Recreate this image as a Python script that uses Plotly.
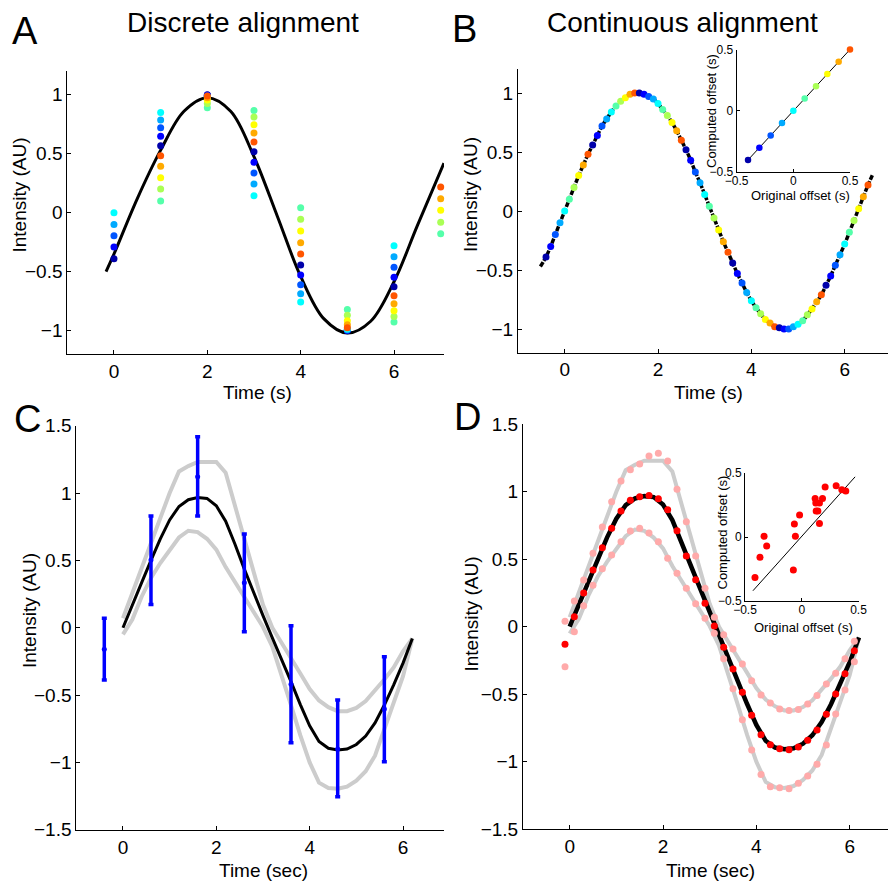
import plotly.graph_objects as go

W, H = 888, 882
FONT = "Liberation Sans, Arial, Helvetica, sans-serif"
# MATLAB jet(10)
JET10 = ['#0000AA', '#0000FF', '#0055FF', '#00AAFF', '#00FFFF',
         '#55FFAA', '#AAFF55', '#FFFF00', '#FFAA00', '#FF5500']

# ---------------- Panel A : discrete alignment ----------------
A_TIMES = [0, 1, 2, 3, 4, 5, 6, 7]
A_VALUES = [
    [0.00, -0.10, -0.195, -0.29, -0.39],
    [0.85, 0.785, 0.72, 0.647, 0.568, 0.483, 0.393, 0.297, 0.20, 0.10],
    [1.00, 0.995, 0.99, 0.985, 0.98, 0.89, 0.925, 0.955, 0.975, 0.99],
    [0.867, 0.81, 0.746, 0.675, 0.60, 0.517, 0.427, 0.336, 0.243, 0.144],
    [0.042, -0.056, -0.155, -0.254, -0.35, -0.443, -0.528, -0.61, -0.686, -0.757],
    [-1.00, -0.997, -0.994, -0.99, -0.985, -0.82, -0.87, -0.915, -0.95, -0.975],
    [-0.28, -0.373, -0.463, -0.548, -0.627, -0.703, -0.771, -0.83, -0.88, -0.927],
    [0.218, 0.119, 0.02, -0.08, -0.178],
]
A_COLOR_IDX = [
    [4, 3, 2, 1, 0],
    [4, 3, 2, 1, 0, 9, 8, 7, 6, 5],
    [0, 1, 2, 3, 4, 5, 6, 7, 8, 9],
    [5, 6, 7, 8, 9, 0, 1, 2, 3, 4],
    [5, 6, 7, 8, 9, 0, 1, 2, 3, 4],
    [0, 1, 2, 3, 4, 5, 6, 7, 8, 9],
    [4, 3, 2, 1, 0, 9, 8, 7, 6, 5],
    [9, 8, 7, 6, 5],
]
A_CURVE_X = [-0.17, 0.0, 0.5, 1.0, 1.5, 2.0, 2.5, 3.0, 3.5, 4.0, 4.5, 5.0, 5.5, 6.0, 6.5, 7.07]
A_CURVE_Y = [-0.50, -0.35, 0.12, 0.53, 0.86, 0.975, 0.86, 0.475, -0.03, -0.54, -0.9, -1.02, -0.92, -0.585, -0.11, 0.42]

# ---------------- Panel B : continuous alignment ----------------
B_TIMES = [-0.4, -0.3, -0.2, -0.1, 0.0, 0.1, 0.2, 0.3, 0.4, 0.5,
           0.6, 0.7, 0.8, 0.9, 1.0, 1.1, 1.2, 1.3, 1.4, 1.5,
           1.6, 1.7, 1.8, 1.9, 2.0, 2.1, 2.2, 2.3, 2.4, 2.5,
           2.6, 2.7, 2.8, 2.9, 3.0, 3.1, 3.2, 3.3, 3.4, 3.5,
           3.6, 3.7, 3.8, 3.9, 4.0, 4.1, 4.2, 4.3, 4.4, 4.5,
           4.6, 4.7, 4.8, 4.9, 5.0, 5.1, 5.2, 5.3, 5.4, 5.5,
           5.6, 5.7, 5.8, 5.9, 6.0, 6.1, 6.2, 6.3, 6.4, 6.5]
B_VALUES = [-0.39, -0.30, -0.20, -0.10, 0.00, 0.10, 0.20, 0.30, 0.39, 0.48,
            0.56, 0.64, 0.72, 0.78, 0.84, 0.89, 0.93, 0.96, 0.99, 1.00,
            1.00, 0.99, 0.97, 0.95, 0.91, 0.86, 0.81, 0.75, 0.68, 0.60,
            0.52, 0.43, 0.33, 0.24, 0.14, 0.04, -0.06, -0.16, -0.26, -0.35,
            -0.44, -0.53, -0.61, -0.69, -0.76, -0.82, -0.87, -0.92, -0.95, -0.98,
            -0.99, -1.00, -1.00, -0.98, -0.96, -0.93, -0.88, -0.83, -0.77, -0.71,
            -0.63, -0.55, -0.46, -0.37, -0.28, -0.18, -0.08, 0.02, 0.12, 0.22]
B_LINE_START = (-0.52, -0.47)
B_LINE_END = (6.6, 0.31)

# inset B
B_ORIG_OFFSET = [-0.4, -0.3, -0.2, -0.1, 0.0, 0.1, 0.2, 0.3, 0.4, 0.5]
B_COMP_OFFSET = [-0.4, -0.3, -0.2, -0.1, 0.0, 0.1, 0.2, 0.3, 0.4, 0.5]

# ---------------- Panels C & D : averaged curves ----------------
LINE_T = [0.0, 0.2, 0.4, 0.6, 0.8, 1.0, 1.2, 1.4, 1.6, 1.8, 2.0, 2.2, 2.4, 2.6, 2.8, 3.0,
          3.2, 3.4, 3.6, 3.8, 4.0, 4.2, 4.4, 4.6, 4.8, 5.0, 5.2, 5.4, 5.6, 5.8, 6.0, 6.2]
MEAN_LINE = [0.0, 0.162, 0.335, 0.5, 0.66, 0.8, 0.9, 0.95, 0.967, 0.96, 0.905, 0.79, 0.62, 0.435, 0.26, 0.09,
             -0.075, -0.233, -0.40, -0.571, -0.728, -0.845, -0.895, -0.908, -0.901, -0.867, -0.804, -0.707,
             -0.574, -0.424, -0.263, -0.08]
UPPER_LINE = [0.07, 0.26, 0.44, 0.64, 0.83, 1.0, 1.16, 1.20, 1.23, 1.23, 1.23, 1.15, 0.90, 0.65, 0.40, 0.17,
              0.0, -0.11, -0.22, -0.34, -0.455, -0.54, -0.59, -0.62, -0.62, -0.595, -0.545, -0.47,
              -0.385, -0.295, -0.175, -0.08]
LOWER_LINE = [-0.05, 0.06, 0.23, 0.37, 0.48, 0.58, 0.67, 0.72, 0.71, 0.66, 0.58, 0.45, 0.34, 0.225, 0.115, 0.005,
              -0.14, -0.35, -0.575, -0.80, -1.0, -1.15, -1.19, -1.195, -1.18, -1.135, -1.065, -0.95,
              -0.76, -0.56, -0.36, -0.08]

C_ERR_T = [-0.4, 0.6, 1.6, 2.6, 3.6, 4.6, 5.6]
C_ERR_MID = [-0.16, 0.503, 1.12, 0.334, -0.42, -0.90, -0.604]
C_ERR_HI = [0.07, 0.83, 1.418, 0.695, 0.015, -0.537, -0.215]
C_ERR_LO = [-0.388, 0.173, 0.83, -0.03, -0.854, -1.255, -0.995]

D_DOT_T = [-0.1, 0.1, 0.3, 0.5, 0.7, 0.9, 1.1, 1.3, 1.5, 1.7, 1.9, 2.1, 2.3, 2.5, 2.7, 2.9,
           3.1, 3.3, 3.5, 3.7, 3.9, 4.1, 4.3, 4.5, 4.7, 4.9, 5.1, 5.3, 5.5, 5.7, 5.9, 6.1]
D_MEAN_DOTS = [-0.13, 0.074, 0.25, 0.42, 0.585, 0.73, 0.857, 0.936, 0.963, 0.972, 0.948, 0.866, 0.711, 0.524,
               0.348, 0.173, 0.005, -0.153, -0.313, -0.486, -0.656, -0.80, -0.874, -0.904, -0.911, -0.891,
               -0.842, -0.765, -0.649, -0.499, -0.348, -0.178]
D_UPPER_DOTS = [0.04, 0.19, 0.346, 0.544, 0.738, 0.926, 1.08, 1.163, 1.205, 1.264, 1.284, 1.227, 1.018, 0.778,
                0.524, 0.284, 0.07, -0.059, -0.165, -0.276, -0.40, -0.506, -0.565, -0.61, -0.621, -0.614,
                -0.573, -0.51, -0.425, -0.345, -0.238, -0.108]
D_LOWER_DOTS = [-0.296, -0.037, 0.156, 0.307, 0.43, 0.531, 0.63, 0.709, 0.729, 0.694, 0.63, 0.507, 0.396, 0.284,
                0.17, 0.062, -0.049, -0.237, -0.459, -0.69, -0.913, -1.094, -1.185, -1.193, -1.20, -1.16,
                -1.106, -1.019, -0.876, -0.647, -0.469, -0.259]

# inset D
D_ORIG_OFFSET = [-0.412, -0.368, -0.332, -0.309, -0.074, -0.065, -0.056, -0.019, 0.118, 0.124,
                 0.127, 0.142, 0.156, 0.156, 0.183, 0.206, 0.303, 0.353, 0.388]
D_COMP_OFFSET = [-0.316, -0.158, 0.005, -0.071, -0.258, 0.102, 0.005, 0.171, 0.30, 0.266,
                 0.203, 0.203, 0.266, 0.105, 0.30, 0.39, 0.40, 0.37, 0.36]
D_IDENTITY_X = [-0.43, 0.47]
D_IDENTITY_Y = [-0.42, 0.47]

# ---------------- helpers (layout only) ----------------
def dom_x(x0, x1):
    return [x0 / W, x1 / W]


def dom_y(top, bot):
    return [1 - bot / H, 1 - top / H]


def axis(dom, rng, tickvals, size=19, ticklen=4, anchor=None, standoff=0):
    d = dict(domain=dom, range=rng, tickvals=tickvals, ticks="inside", ticklen=ticklen,
             tickwidth=1, tickcolor="black", showline=True, linecolor="black", linewidth=1,
             showgrid=False, zeroline=False, fixedrange=True, automargin=False,
             ticklabelstandoff=standoff,
             tickfont=dict(family=FONT, size=size, color="black"))
    if anchor:
        d["anchor"] = anchor
    return d


fig = go.Figure()

# ---- Panel A traces
fig.add_trace(go.Scatter(x=A_CURVE_X, y=A_CURVE_Y, mode="lines", line=dict(color="black", width=3, shape="spline"),
                         xaxis="x", yaxis="y", showlegend=False))
pts = []
for t, vals, cols in zip(A_TIMES, A_VALUES, A_COLOR_IDX):
    for v, c in zip(vals, cols):
        pts.append((c, t, v))
pts.sort(key=lambda p: p[0])
fig.add_trace(go.Scatter(x=[p[1] for p in pts], y=[p[2] for p in pts], mode="markers",
                         marker=dict(size=7, color=[JET10[p[0]] for p in pts], line=dict(width=0)),
                         cliponaxis=False, xaxis="x", yaxis="y", showlegend=False))

# ---- Panel B traces
fig.add_trace(go.Scatter(x=[B_LINE_START[0]] + B_TIMES + [B_LINE_END[0]],
                         y=[B_LINE_START[1]] + B_VALUES + [B_LINE_END[1]],
                         mode="lines", line=dict(color="black", width=3.5, dash="5px,1.5px", shape="spline"),
                         xaxis="x2", yaxis="y2", showlegend=False))
fig.add_trace(go.Scatter(x=B_TIMES, y=B_VALUES, mode="markers",
                         marker=dict(size=7, color=[JET10[i % 10] for i in range(len(B_TIMES))], line=dict(width=0)),
                         xaxis="x2", yaxis="y2", showlegend=False))
# inset B
fig.add_trace(go.Scatter(x=[B_ORIG_OFFSET[0], B_ORIG_OFFSET[-1]], y=[B_COMP_OFFSET[0], B_COMP_OFFSET[-1]],
                         mode="lines", line=dict(color="black", width=1),
                         xaxis="x3", yaxis="y3", showlegend=False))
fig.add_trace(go.Scatter(x=B_ORIG_OFFSET, y=B_COMP_OFFSET, mode="markers",
                         marker=dict(size=6.5, color=[JET10[i % 10] for i in range(len(B_ORIG_OFFSET))], line=dict(width=0)),
                         cliponaxis=False, xaxis="x3", yaxis="y3", showlegend=False))

# ---- Panel C / D lines
GRAY = "#CCCCCC"
for ax in (("x4", "y4"), ("x5", "y5")):
    fig.add_trace(go.Scatter(x=LINE_T, y=UPPER_LINE, mode="lines", line=dict(color=GRAY, width=4),
                             xaxis=ax[0], yaxis=ax[1], showlegend=False))
    fig.add_trace(go.Scatter(x=LINE_T, y=LOWER_LINE, mode="lines", line=dict(color=GRAY, width=4),
                             xaxis=ax[0], yaxis=ax[1], showlegend=False))
    fig.add_trace(go.Scatter(x=LINE_T, y=MEAN_LINE, mode="lines",
                             line=dict(color="black", width=3 if ax[0] == "x4" else 4.5),
                             xaxis=ax[0], yaxis=ax[1], showlegend=False))

fig.add_trace(go.Scatter(x=C_ERR_T, y=C_ERR_MID, mode="markers",
                         marker=dict(size=5, color="#0000FF"),
                         error_y=dict(type="data", symmetric=False,
                                      array=[h - m for h, m in zip(C_ERR_HI, C_ERR_MID)],
                                      arrayminus=[m - l for m, l in zip(C_ERR_MID, C_ERR_LO)],
                                      color="#0000FF", thickness=3.5, width=2.5),
                         xaxis="x4", yaxis="y4", showlegend=False))

# ---- Panel D dots
fig.add_trace(go.Scatter(x=D_DOT_T, y=D_UPPER_DOTS, mode="markers", marker=dict(size=7, color="#FFAAAA"),
                         xaxis="x5", yaxis="y5", showlegend=False))
fig.add_trace(go.Scatter(x=D_DOT_T, y=D_LOWER_DOTS, mode="markers", marker=dict(size=7, color="#FFAAAA"),
                         xaxis="x5", yaxis="y5", showlegend=False))
fig.add_trace(go.Scatter(x=D_DOT_T, y=D_MEAN_DOTS, mode="markers", marker=dict(size=7, color="#FF0000"),
                         xaxis="x5", yaxis="y5", showlegend=False))
# inset D
fig.add_trace(go.Scatter(x=D_IDENTITY_X, y=D_IDENTITY_Y, mode="lines", line=dict(color="black", width=1),
                         xaxis="x6", yaxis="y6", showlegend=False))
fig.add_trace(go.Scatter(x=D_ORIG_OFFSET, y=D_COMP_OFFSET, mode="markers", marker=dict(size=7, color="#FF0000"),
                         cliponaxis=False, xaxis="x6", yaxis="y6", showlegend=False))

# ---- axes
TV_MAIN_X = [0, 2, 4, 6]
TV_AB_Y = [-1, -0.5, 0, 0.5, 1]
TV_CD_Y = [-1.5, -1, -0.5, 0, 0.5, 1, 1.5]
TV_IN = [-0.5, 0, 0.5]

layout_axes = dict(
    xaxis=axis(dom_x(67.3, 444), [-1, 7.071], TV_MAIN_X, anchor="y"),
    yaxis=axis(dom_y(71.1, 354.3), [-1.2, 1.2], TV_AB_Y, anchor="x"),
    xaxis2=axis(dom_x(518, 888), [-1, 6.928], TV_MAIN_X, anchor="y2"),
    yaxis2=axis(dom_y(69.4, 352.6), [-1.2, 1.2], TV_AB_Y, anchor="x2"),
    xaxis3=axis(dom_x(736.7, 850), [-0.5, 0.5], TV_IN, size=12, ticklen=3, anchor="y3", standoff=-3),
    yaxis3=axis(dom_y(49.5, 172.2), [-0.5, 0.5], TV_IN, size=12, ticklen=3, anchor="x3"),
    xaxis4=axis(dom_x(76.3, 444), [-1, 6.878], TV_MAIN_X, anchor="y4"),
    yaxis4=axis(dom_y(425.65, 829.75), [-1.5, 1.5], TV_CD_Y, anchor="x4"),
    xaxis5=axis(dom_x(523, 888), [-1, 6.821], TV_MAIN_X, anchor="y5"),
    yaxis5=axis(dom_y(424.2, 829.2), [-1.5, 1.5], TV_CD_Y, anchor="x5"),
    xaxis6=axis(dom_x(745, 858.5), [-0.5, 0.5], TV_IN, size=12, ticklen=3, anchor="y6", standoff=-2),
    yaxis6=axis(dom_y(473, 601), [-0.5, 0.5], TV_IN, size=12, ticklen=3, anchor="x6"),
)


def ann(text, x, y, size, angle=0):
    return dict(text=text, x=x / W, y=1 - y / H, xref="paper", yref="paper", showarrow=False,
                xanchor="center", yanchor="middle", textangle=angle,
                font=dict(family=FONT, size=size, color="black"))


annotations = [
    ann("A", 25, 31, 38), ann("B", 464, 29, 38), ann("C", 28, 419, 38), ann("D", 468, 417, 38),
    ann("Discrete alignment", 243, 23, 28), ann("Continuous alignment", 682, 23, 28),
    ann("Time (s)", 257, 392, 19), ann("Time (s)", 708, 392, 19),
    ann("Time (sec)", 263, 870, 19), ann("Time (sec)", 710, 870, 19),
    ann("Intensity (AU)", 18.5, 195, 19, -90), ann("Intensity (AU)", 471, 194, 19, -90),
    ann("Intensity (AU)", 29, 611, 19, -90), ann("Intensity (AU)", 470.5, 614, 19, -90),
    ann("Computed offset (s)", 711, 111, 13, -90), ann("Original offset (s)", 800.5, 195, 13),
    ann("Computed offset (s)", 721.5, 533, 13, -90), ann("Original offset (s)", 803, 627, 13),
]

fig.update_layout(width=W, height=H, margin=dict(l=0, r=0, t=0, b=0, pad=0, autoexpand=False),
                  paper_bgcolor="white", plot_bgcolor="white", showlegend=False,
                  annotations=annotations, **layout_axes)

fig.write_html("out.html")
